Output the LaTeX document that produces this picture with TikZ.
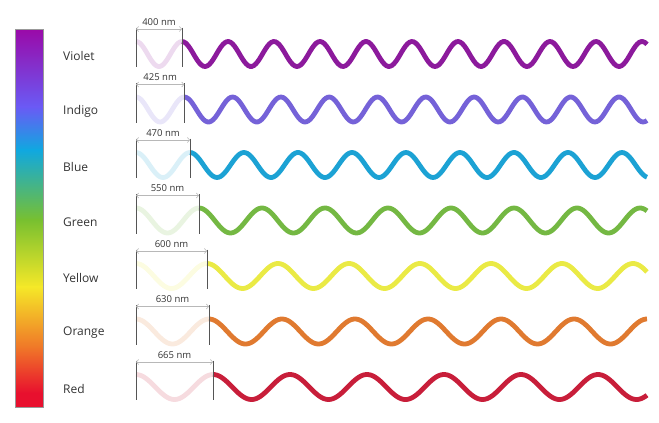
\documentclass[tikz,border=0pt]{standalone}
\usepackage{fontspec}
\setmainfont{Open Sans}
\usetikzlibrary{arrows.meta}
\definecolor{cViolet}{HTML}{8C1A9C}
\definecolor{cIndigo}{HTML}{7562D8}
\definecolor{cBlue}{HTML}{1CA2D4}
\definecolor{cGreen}{HTML}{74B843}
\definecolor{cYellow}{HTML}{EAEA45}
\definecolor{cOrange}{HTML}{E07A30}
\definecolor{cRed}{HTML}{C81E3A}
\definecolor{bPurple}{HTML}{9A0AA8}
\definecolor{bIndigo}{HTML}{6A5AF5}
\definecolor{bBlue}{HTML}{10A8E0}
\definecolor{bGreen}{HTML}{78C030}
\definecolor{bYellow}{HTML}{F5E828}
\definecolor{bOrange}{HTML}{F07828}
\definecolor{bRed}{HTML}{E8102E}
\definecolor{txt}{HTML}{333333}
\definecolor{vline}{HTML}{555555}
\definecolor{dimgray}{HTML}{B8B8B8}
\tikzset{
  wave/.style={line width=4.8pt, smooth},
  faintwave/.style={line width=4.8pt, smooth, opacity=0.16},
  mark line/.style={vline, line width=0.9pt},
  dimarrow/.style={dimgray, line width=0.6pt, {Straight Barb[length=2.2pt,width=5pt]}-{Straight Barb[length=2.2pt,width=5pt]}},
  colorlabel/.style={anchor=west, text=txt, font=\fontsize{12}{14}\selectfont, inner sep=0pt},
  nmlabel/.style={text=txt, font=\fontsize{9.5}{11}\selectfont, inner sep=0pt}
}
\begin{document}
\begin{tikzpicture}[x=1pt,y=-1pt]
\useasboundingbox (0,0) rectangle (659,423);
% colour bar
\shade[top color=bPurple, bottom color=bIndigo] (15,29.3) rectangle (42.7,107);
\shade[top color=bIndigo, bottom color=bBlue] (15,106.8) rectangle (42.7,150);
\shade[top color=bBlue, bottom color=bGreen] (15,149.8) rectangle (42.7,220);
\shade[top color=bGreen, bottom color=bYellow] (15,219.8) rectangle (42.7,287);
\shade[top color=bYellow, bottom color=bOrange] (15,286.8) rectangle (42.7,347);
\shade[top color=bOrange, bottom color=bRed] (15,346.8) rectangle (42.7,393);
\fill[bRed] (15,392.8) rectangle (42.7,406.7);
\draw[black!40, line width=0.4pt] (15,29.3) rectangle (42.7,406.7);
\foreach \name/\nm/\yc/\lam/\col in {
  Violet/400/54/46/cViolet,
  Indigo/425/109.5/48.3/cIndigo,
  Blue/470/165/54/cBlue,
  Green/550/220.5/63/cGreen,
  Yellow/600/276/71/cYellow,
  Orange/630/331.5/73/cOrange,
  Red/665/387/77/cRed} {
  \pgfmathsetmacro\xr{136+\lam}
  \draw[faintwave, \col, domain=136:\xr, samples=40] plot (\x,{\yc-12.5*cos(((\x-136)/\lam)*360)});
  \draw[wave, \col, domain=\xr:647, samples=240] plot (\x,{\yc-12.5*cos(((\x-\xr)/\lam)*360)});
  \coordinate (L\name) at (136,\yc-25);
  \coordinate (R\name) at (\xr,\yc-25);
  \draw[mark line] (136,\yc-26.5) -- (136,\yc+13);
  \draw[mark line] (\xr,\yc-26.5) -- (\xr,\yc+13);
  \draw[dimarrow] (L\name) -- (R\name);
  \node[nmlabel] (N\name) at ({(136+\xr)/2},\yc-32) {\nm\ nm};
  \node[colorlabel] (T\name) at (63,\yc+1.5) {\name};
}
\end{tikzpicture}
\end{document}
